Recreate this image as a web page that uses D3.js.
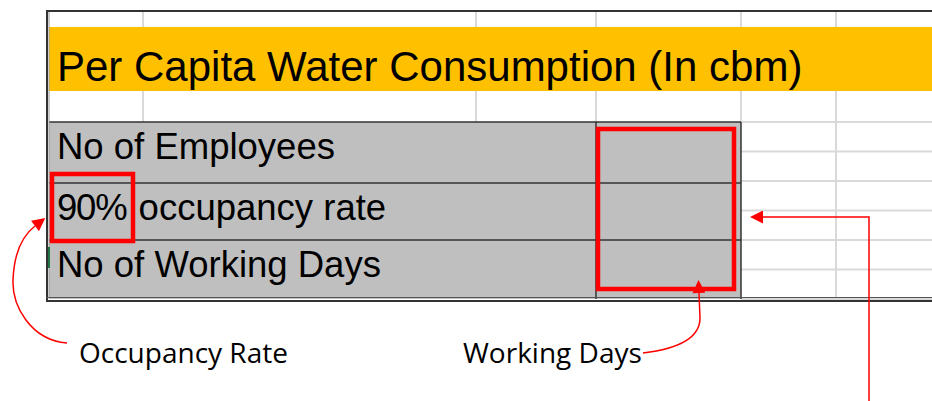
<!DOCTYPE html>
<html><head><meta charset="utf-8">
<script src="https://cdn.jsdelivr.net/npm/d3@7"></script>
<style>html,body{margin:0;padding:0;background:#fff;overflow:hidden}</style>
</head><body><svg id="c" width="932" height="401"></svg>
<script>
// ---- data ----
const title = "Per Capita Water Consumption (In cbm)";
const rowLabels = ["No of Employees", "90% occupancy rate", "No of Working Days"];
const highlightText = "90%";
const annotationLabels = ["Occupancy Rate", "Working Days"];
const subRows = [0, 1, 2, 3, 4, 5, 6];

// ---- layout ----
const W = 932, H = 401;
const svg = d3.select("#c");
const tableTop = 122, tableBottom = 299, tableLeft = 49, splitX = 596, tableRight = 741;
const y = d3.scaleOrdinal().domain(rowLabels).range([122, 183, 240]);
const ySub = d3.scaleLinear().domain([0, 6]).range([tableTop, tableBottom]);
const gridCols = [143, 476, 596, 741, 836];
const gridColor = "#d9d9d9", dark = "#333";
const red = "#ff0000";

svg.append("rect").attr("width", W).attr("height", H).attr("fill", "#fff");

// defs: arrowheads
const defs = svg.append("defs");
defs.append("marker").attr("id", "ah")
  .attr("viewBox", "0 0 10 10").attr("refX", 0).attr("refY", 5)
  .attr("markerUnits", "userSpaceOnUse")
  .attr("markerWidth", 15).attr("markerHeight", 13).attr("orient", "auto")
  .append("path").attr("d", "M0,0 L10,5 L0,10 Z").attr("fill", red);

// light gridlines in top white zones
const g = svg.append("g");
gridCols.forEach(x => {
  g.append("line").attr("x1", x).attr("x2", x).attr("y1", 11).attr("y2", 27)
    .attr("stroke", gridColor).attr("stroke-width", 2);
  g.append("line").attr("x1", x).attr("x2", x).attr("y1", 91).attr("y2", tableTop)
    .attr("stroke", gridColor).attr("stroke-width", 2);
});
// right side grid (outside table)
g.selectAll("line.hs").data(subRows).join("line").attr("class", "hs")
  .attr("x1", tableRight).attr("x2", W)
  .attr("y1", d => ySub(d)).attr("y2", d => ySub(d))
  .attr("stroke", gridColor).attr("stroke-width", 2);
g.append("line").attr("x1", 836).attr("x2", 836).attr("y1", tableTop).attr("y2", tableBottom)
  .attr("stroke", gridColor).attr("stroke-width", 2);

// orange title band
svg.append("rect").attr("x", tableLeft).attr("y", 27).attr("width", W - tableLeft).attr("height", 64)
  .attr("fill", "#ffc000");
svg.append("text").attr("x", 57).attr("y", 81)
  .attr("font-family", "'Liberation Sans', Arial, sans-serif").attr("font-size", 42)
  .attr("fill", "#000").text(title);

// gray table
svg.append("rect").attr("x", tableLeft).attr("y", tableTop)
  .attr("width", tableRight - tableLeft).attr("height", tableBottom - tableTop)
  .attr("fill", "#bfbfbf");

// table lines
const tl = svg.append("g").attr("stroke", dark).attr("stroke-width", 1.5);
rowLabels.forEach((r, i) => {
  tl.append("line").attr("x1", tableLeft).attr("x2", tableRight)
    .attr("y1", y(r)).attr("y2", y(r));
});
tl.append("line").attr("x1", splitX).attr("x2", splitX).attr("y1", tableTop).attr("y2", tableBottom);
tl.append("line").attr("x1", tableRight).attr("x2", tableRight).attr("y1", tableTop).attr("y2", tableBottom);

// row labels
const rows = svg.selectAll("text.row").data(rowLabels).join("text").attr("class", "row")
  .attr("x", 57).attr("y", d => y(d) + 37)
  .attr("font-family", "'Liberation Sans', Arial, sans-serif").attr("font-size", 36.5)
  .attr("fill", "#000");
rows.each(function(d) {
  const t = d3.select(this);
  if (d.startsWith(highlightText)) {
    t.append("tspan").attr("letter-spacing", -1.2).text(highlightText);
    t.append("tspan").attr("dx", 2).text(d.slice(highlightText.length));
  } else {
    t.text(d);
  }
});

// outer borders
svg.append("line").attr("x1", 46).attr("x2", W).attr("y1", 11).attr("y2", 11).attr("stroke", dark).attr("stroke-width", 2);
svg.append("line").attr("x1", 47).attr("x2", 47).attr("y1", 10).attr("y2", 302).attr("stroke", dark).attr("stroke-width", 2);
svg.append("line").attr("x1", 49).attr("x2", 49).attr("y1", 12).attr("y2", 298).attr("stroke", "#9a9a9a").attr("stroke-width", 1);
svg.append("line").attr("x1", 46).attr("x2", W).attr("y1", 297.5).attr("y2", 297.5).attr("stroke", "#555").attr("stroke-width", 1);
svg.append("line").attr("x1", 46).attr("x2", W).attr("y1", 301).attr("y2", 301).attr("stroke", dark).attr("stroke-width", 2);
svg.append("line").attr("x1", 49).attr("x2", 49).attr("y1", 247).attr("y2", 268).attr("stroke", "#217346").attr("stroke-width", 2);

// red highlight boxes
const hb = svg.append("g").attr("fill", "none").attr("stroke", red).attr("stroke-width", 4.5);
hb.append("rect").attr("x", 52).attr("y", 174).attr("width", 81).attr("height", 67);
hb.append("rect").attr("x", 598).attr("y", 129).attr("width", 136).attr("height", 160);

// annotation arrows
const ar = svg.append("g").attr("fill", "none").attr("stroke", red).attr("stroke-width", 1.5);
ar.append("path").attr("d", "M67,343 C30,340 12,305 13,280 C14,255 22,236 35,226").attr("marker-end", "url(#ah)");
ar.append("path").attr("d", "M643,353 C685,348 700,335 700,318 L699,293").attr("marker-end", "url(#ah)");
ar.append("path").attr("d", "M869,401 L869,217 L763,217").attr("marker-end", "url(#ah)");

// annotation labels
const labelX = [79, 463];
svg.selectAll("text.ann").data(annotationLabels).join("text").attr("class", "ann")
  .attr("x", (d, i) => labelX[i]).attr("y", 363)
  .attr("font-family", "'Open Sans', 'Noto Sans', sans-serif").attr("font-size", 28)
  .attr("fill", "#000").text(d => d);
</script>
</body></html>
